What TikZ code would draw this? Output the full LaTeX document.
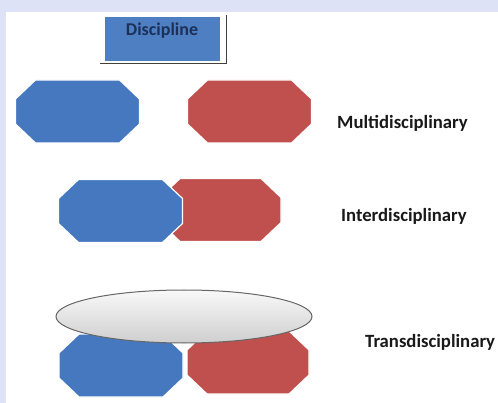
\documentclass[tikz,border=0pt]{standalone}
\usepackage{fontspec}
\setmainfont{Carlito}
\usetikzlibrary{shapes.geometric,positioning}

\definecolor{framebg}{RGB}{221,226,246}
\definecolor{offblue}{RGB}{70,120,192}
\definecolor{offred}{RGB}{192,80,77}
\definecolor{navytext}{RGB}{28,48,88}
\definecolor{labeltext}{RGB}{25,25,25}

% octagon over the box of a named node
\newcommand{\octafill}[2]{%
  \filldraw[fill=#2, draw=white, line width=1.2pt]
    ([xshift=20pt]#1.north west) -- ([xshift=-20pt]#1.north east)
    -- ([yshift=-19pt]#1.north east) -- ([yshift=19pt]#1.south east)
    -- ([xshift=-20pt]#1.south east) -- ([xshift=20pt]#1.south west)
    -- ([yshift=19pt]#1.south west) -- ([yshift=-19pt]#1.north west)
    -- cycle;}

\begin{document}
\begin{tikzpicture}[
  x=1pt, y=-1pt,
  node distance=48pt,
  octa/.style={
    rectangle,
    minimum width=124pt,
    minimum height=63pt,
    inner sep=0pt,
    outer sep=0pt
  },
  discbox/.style={
    rectangle,
    fill=offblue!95!white,
    draw=white,
    minimum width=116pt,
    inner xsep=0pt,
    inner ysep=4pt,
    text height=16pt,
    text depth=21pt,
    font=\fontsize{18}{21}\selectfont\bfseries,
    text=navytext
  },
  kind/.style={
    anchor=west,
    inner sep=0pt,
    font=\fontsize{18.7}{22}\selectfont\bfseries,
    text=labeltext
  },
  shadowline/.style={draw=black!75, line width=1.1pt}
]

% frame
\fill[framebg] (0,0) rectangle (498,403);
\fill[white] (6,12) rectangle (498,403);
\useasboundingbox (0,0) rectangle (498,403);

% discipline
\node[discbox] (disc) at (162,38.5) {Discipline};
\draw[shadowline] ([xshift=-4pt,yshift=-2pt]disc.south west)
  -- ([xshift=6pt,yshift=-2pt]disc.south east)
  -- ([xshift=6pt,yshift=1pt]disc.north east);

% multi
\node[octa] (multiA) at (77.5,111.5) {};
\node[octa, right=48pt of multiA] (multiB) {};
\octafill{multiA}{offblue}
\octafill{multiB}{offred}
\node[kind] (multi) at (337,123) {Multidisciplinary};

% inter
\node[octa, minimum width=121pt] (interB) at (220.5,210) {};
\node[octa] (interA) at (120.5,211) {};
\octafill{interB}{offred}
\octafill{interA}{offblue}
\node[kind] (inter) at (341,216) {Interdisciplinary};

% trans
\node[octa] (transA) at (121,365.5) {};
\node[octa, minimum width=122pt, right=4pt of transA, yshift=3pt] (transB) {};
\octafill{transA}{offblue}
\octafill{transB}{offred}
\node[ellipse, draw=black!60, line width=1pt, top color=gray!5, bottom color=gray!38,
  minimum width=256pt, minimum height=53pt] (trans) at (184,316.5) {};
\node[kind] (transl) at (365,342) {Transdisciplinary};

\end{tikzpicture}
\end{document}
